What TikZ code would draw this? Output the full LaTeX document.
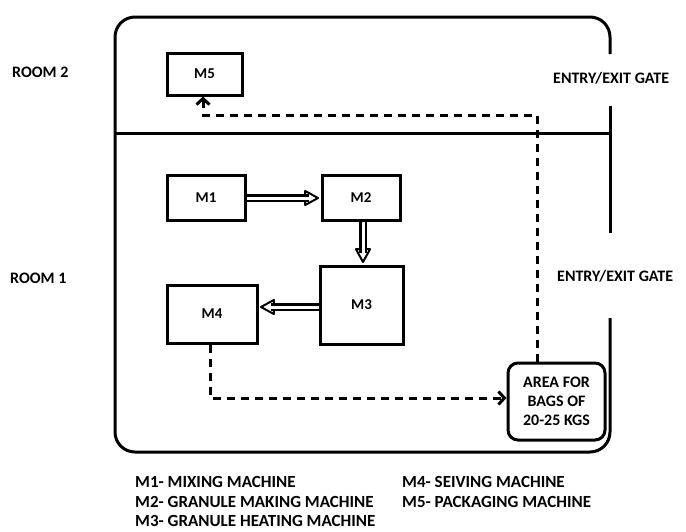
\documentclass[tikz,border=0pt]{standalone}
\usepackage{fontspec}
\setmainfont{Carlito}
\usetikzlibrary{arrows.meta}
\begin{document}
\begin{tikzpicture}[x=1pt,y=-1pt,
  wall/.style={line width=3pt},
  machine/.style={draw,line width=3pt,rectangle,inner sep=0pt,font=\fontsize{15}{17}\selectfont\bfseries},
  lbl/.style={anchor=west,inner sep=0pt,font=\fontsize{16}{19}\selectfont\bfseries},
  leg/.style={anchor=west,inner sep=0pt,font=\fontsize{17}{19}\selectfont\bfseries},
  shaft/.style={line width=2.4pt,double,double distance=3pt},
  headtip/.style={line width=2pt,-{Triangle[open,fill=white,length=16pt,width=17pt,round]}},
  dashflow/.style={line width=3pt,dash pattern=on 8pt off 6pt},
]
\useasboundingbox (0,0) rectangle (686,531);
% outer frame
\draw[wall,rounded corners=20pt] (610,54) -- (610,17) -- (115,17) -- (115,452) -- (610,452) -- (610,318);
\draw[wall] (610,106) -- (610,233);
\draw[wall] (115,133) -- (610,133);
% machines
\node[machine,minimum width=75pt,minimum height=42pt] (m5) at (204.5,74) {M5};
\node[machine,minimum width=78pt,minimum height=45pt] (m1) at (206,198) {M1};
\node[machine,minimum width=78pt,minimum height=45pt] (m2) at (361,198) {M2};
\node[machine,minimum width=83pt,minimum height=78pt] (m3) at (361.5,305) {M3};
\node[machine,minimum width=90pt,minimum height=58pt] (m4) at (212,314) {M4};
\node[machine,rounded corners=10pt,minimum width=97pt,minimum height=77pt,align=center,
  font=\fontsize{16}{19}\selectfont\bfseries] (area) at (556.5,401.5) {AREA FOR\\BAGS OF\\20-25 KGS};
% solid flows (double shaft + open head)
\draw[headtip] ([xshift=-17.5pt]m2.west) -- ([xshift=-1.5pt]m2.west);
\draw[shaft] (m1.east) -- ([xshift=-12pt]m2.west);
\coordinate (d1) at ([xshift=2pt]m2.south);
\draw[headtip] ([yshift=17.5pt]d1 |- m3.north) -- ([yshift=1.5pt]d1 |- m3.north);
\draw[shaft] (d1) -- ([yshift=12pt]d1 |- m3.north);
\coordinate (d2) at (m3.west |- 0,307);
\draw[headtip] ([xshift=17.5pt]m4.east |- d2) -- ([xshift=1.5pt]m4.east |- d2);
\draw[shaft] (d2) -- ([xshift=12pt]m4.east |- d2);
% dashed flows
\coordinate (c1) at (210,398);
\coordinate (c2) at (537,115);
\coordinate (c3) at (203,115);
\draw[dashflow,-{Straight Barb[length=6pt,width=13pt]}] ([xshift=-2pt]m4.south) -- (c1) -- (c1 -| area.west);
\draw[dashflow,-{Straight Barb[length=6pt,width=13pt]}] (c2 |- area.north) -- (c2) -- (c3) -- (c3 |- m5.south);
% labels
\node[lbl] (r2) at (12,72) {ROOM 2};
\node[lbl] (r1) at (10,278) {ROOM 1};
\node[lbl] (g1) at (553,78) {ENTRY/EXIT GATE};
\node[lbl] (g2) at (557,276) {ENTRY/EXIT GATE};
% legend
\node[leg] (l1) at (135,482) {M1- MIXING MACHINE};
\node[leg] (l2) at (135,502) {M2- GRANULE MAKING MACHINE};
\node[leg] (l3) at (135,521) {M3- GRANULE HEATING MACHINE};
\node[leg] (l4) at (402,482) {M4- SEIVING MACHINE};
\node[leg] (l5) at (402,502) {M5- PACKAGING MACHINE};
\end{tikzpicture}
\end{document}
